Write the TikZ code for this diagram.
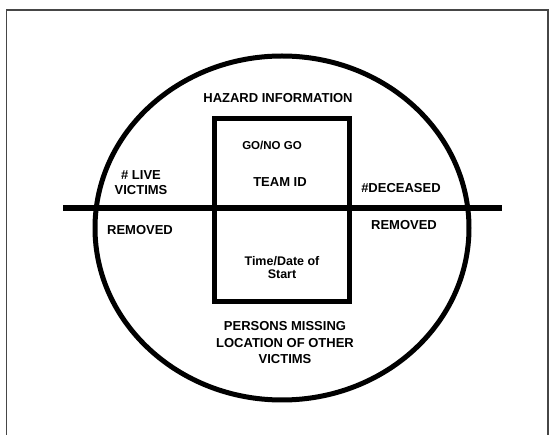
\documentclass[tikz,border=0pt]{standalone}
\usepackage{fontspec}
\setmainfont{Liberation Sans}
\usetikzlibrary{positioning}
\definecolor{frameGray}{RGB}{70,70,70}
\tikzset{
  lbl/.style={font=\bfseries\fontsize{13}{15}\selectfont, align=center, inner sep=0pt},
  heavy/.style={line width=5pt}
}

\begin{document}
\begin{tikzpicture}[x=1pt,y=-1pt]
  \useasboundingbox (0,0) rectangle (550,435);
  % page frame
  \draw[frameGray, line width=1.5pt] (6.5,435) -- (6.5,10) -- (548,10) -- (548,435);
  % circle, box and divider
  \draw[heavy] (282,228) ellipse (187 and 172);
  \draw[heavy] (214,119) rectangle (349,302);
  \draw[line width=6pt] (63,208) -- (502,208);
  % labels
  \node[lbl] (hazard) at (278,98) {HAZARD INFORMATION};
  \node[lbl, font=\bfseries\fontsize{11.5}{13}\selectfont] (goNoGo) at (272,145) {GO/NO GO};
  \node[lbl] (teamId) at (280,182) {TEAM ID};
  \node[lbl] (liveVictims) at (141,183) {\# LIVE\\VICTIMS};
  \node[lbl] (liveRemoved) at (140,230) {REMOVED};
  \node[lbl] (deceased) at (401,188) {\#DECEASED};
  \node[lbl] (deadRemoved) at (404,225) {REMOVED};
  \node[lbl, font=\bfseries\fontsize{12.5}{13}\selectfont] (startTime) at (282,268) {Time/Date of\\Start};
  \node[lbl, font=\bfseries\fontsize{13}{16.5}\selectfont] (missing) at (285,343) {PERSONS MISSING\\LOCATION OF OTHER\\VICTIMS};
\end{tikzpicture}
\end{document}
